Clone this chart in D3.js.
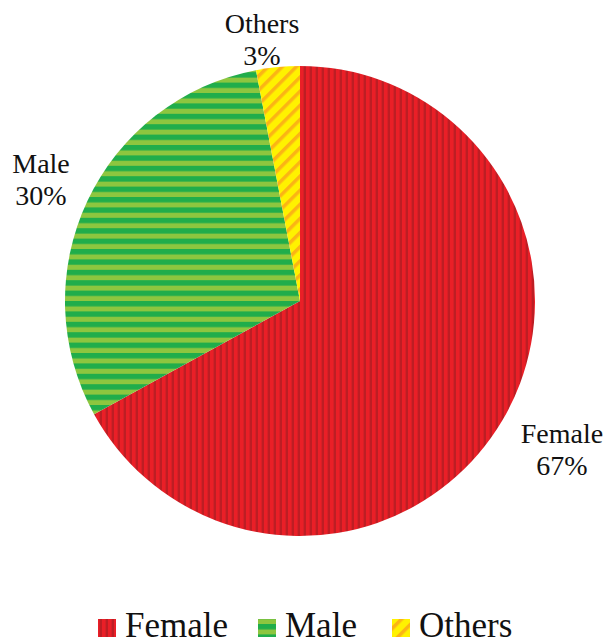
<!DOCTYPE html>
<html>
<head>
<meta charset="utf-8">
<script src="https://cdn.jsdelivr.net/npm/d3@7"></script>
</head>
<body style="margin:0">
<svg id="chart" width="606" height="644" style="display:block; font-family: 'Liberation Serif'"></svg>
<script>
// Gender distribution
const categories = ["Female", "Male", "Others"];
const values = [67, 30, 3];
const percentLabels = ["67%", "30%", "3%"];

const svg = d3.select("#chart");
const cx = 300, cy = 301, R = 235;

// Striped fills for each slice
const defs = svg.append("defs");

const pFemale = defs.append("pattern")
  .attr("id", "pat-Female").attr("patternUnits", "userSpaceOnUse")
  .attr("width", 6).attr("height", 6);
pFemale.append("rect").attr("width", 6).attr("height", 6).attr("fill", "#ea1f27");
pFemale.append("rect").attr("x", 3.6).attr("width", 2.4).attr("height", 6).attr("fill", "#bd1e24");

const pMale = defs.append("pattern")
  .attr("id", "pat-Male").attr("patternUnits", "userSpaceOnUse")
  .attr("width", 10).attr("height", 10.4);
pMale.append("rect").attr("width", 10).attr("height", 10.4).attr("fill", "#20ad4b");
pMale.append("rect").attr("y", 5.4).attr("width", 10).attr("height", 5).attr("fill", "#8dc63f");

const pOthers = defs.append("pattern")
  .attr("id", "pat-Others").attr("patternUnits", "userSpaceOnUse")
  .attr("width", 10).attr("height", 10)
  .attr("patternTransform", "rotate(45)");
pOthers.append("rect").attr("width", 10).attr("height", 10).attr("fill", "#fff200");
pOthers.append("rect").attr("width", 3.5).attr("height", 10).attr("fill", "#fbb415");

const fillOf = c => `url(#pat-${c})`;

const pie = d3.pie().sort(null).value((d, i) => values[i]);
const arcs = pie(categories);
const arc = d3.arc().innerRadius(0).outerRadius(R);

const g = svg.append("g").attr("transform", `translate(${cx},${cy})`);
g.selectAll("path.slice")
  .data(arcs)
  .join("path")
  .attr("class", "slice")
  .attr("d", arc)
  .attr("fill", d => fillOf(d.data));

// Slice labels placed outside the pie, two lines each
const labelPos = {
  Female: [562, 443],
  Male: [41, 173],
  Others: [262, 33]
};
categories.forEach((c, i) => {
  const [x, y] = labelPos[c];
  svg.append("text")
    .attr("x", x).attr("y", y)
    .attr("text-anchor", "middle")
    .attr("font-size", 28)
    .style("font-family", "'Liberation Serif'")
    .attr("fill", "#111")
    .text(c);
  svg.append("text")
    .attr("x", x).attr("y", y + 32)
    .attr("text-anchor", "middle")
    .attr("font-size", 28)
    .style("font-family", "'Liberation Serif'")
    .attr("fill", "#111")
    .text(percentLabels[i]);
});

// Legend
const legendX = [98, 258, 392];
categories.forEach((c, i) => {
  svg.append("rect")
    .attr("x", legendX[i]).attr("y", 619)
    .attr("width", 18).attr("height", 18)
    .attr("fill", fillOf(c));
  svg.append("text")
    .attr("x", legendX[i] + 27).attr("y", 637)
    .attr("font-size", 35)
    .style("font-family", "'Liberation Serif'")
    .attr("fill", "#111")
    .text(c);
});
</script>
</body>
</html>
